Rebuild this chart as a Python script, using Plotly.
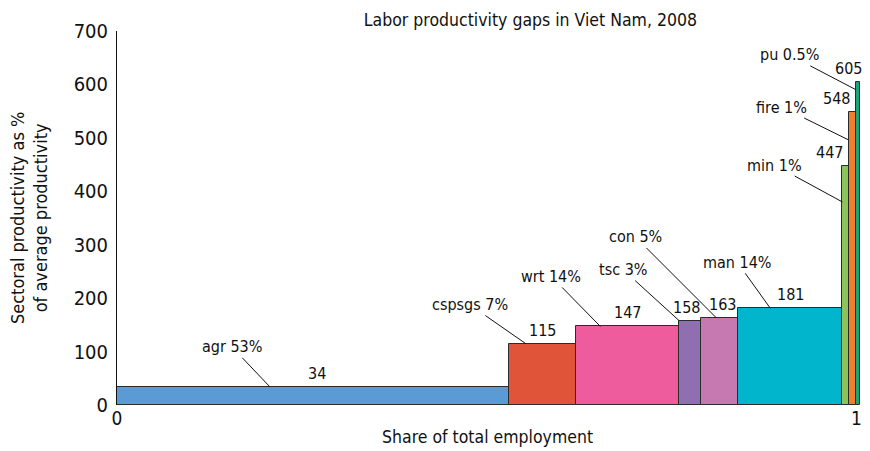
import numpy as np
import plotly.graph_objects as go

# ---- data ----
sectors = ["agr", "cspsgs", "wrt", "tsc", "con", "man", "min", "fire", "pu"]
share_labels = ["53%", "7%", "14%", "3%", "5%", "14%", "1%", "1%", "0.5%"]
employment_share = [0.53, 0.09, 0.14, 0.03, 0.05, 0.14, 0.0095, 0.01, 0.0055]
productivity = [34, 115, 147, 158, 163, 181, 447, 548, 605]
x_tick_vals = [0, 1]
y_tick_vals = [0, 100, 200, 300, 400, 500, 600, 700]

# ---- style ----
colors = ["#5B9BD5", "#E0553A", "#EE5C9E", "#8F6FAF", "#C678B1",
          "#00B5CC", "#8DC45A", "#F07F2D", "#17A77A"]
# leader-line tip position within each bar (fraction of width, fraction of height)
tip_fx = [0.39, 0.25, 0.24, 0.0, 0.41, 0.31, 0.1, 0.0, 0.0]
tip_fy = [1.0, 1.0, 1.0, 1.0, 1.0, 1.0, 0.85, 0.905, 0.975]
# text offsets (pixels) from tip
lab_ax = [-38, -56, -49, -56, -81, -33, -68, -67, -67]
lab_ay = [-40, -39, -50, -51, -81, -46, -37, -33, -35]
val_dx = [4, 0, 0, -4, 3, 0, -16, -16, -10]

FONT = "Liberation Sans Narrow, DejaVu Sans Condensed, Roboto, sans-serif"

w = np.array(employment_share)
starts = np.concatenate([[0], np.cumsum(w)[:-1]])
centers = starts + w / 2

# page has an 8px body margin, so the figure is drawn 8px smaller and offset
FIG_W, FIG_H = 862, 443
L, T = 109, 23
XMAX = 1.006
PLOT_W = 740 * XMAX
PLOT_H = 374
R = FIG_W - L - PLOT_W
B = FIG_H - T - PLOT_H

fig = go.Figure()
fig.add_trace(go.Bar(
    x=centers, y=productivity, width=w,
    marker=dict(color=colors, line=dict(color="#2b2b2b", width=1)),
    cliponaxis=False, hoverinfo="skip", showlegend=False,
))

ann = []
for i, s in enumerate(sectors):
    tx = starts[i] + tip_fx[i] * w[i]
    ty = productivity[i] * tip_fy[i]
    ann.append(dict(
        x=tx, y=ty, xref="x", yref="y",
        text=f"{s} {share_labels[i]}", showarrow=True, arrowhead=0,
        arrowwidth=1, arrowcolor="#111", ax=lab_ax[i], ay=lab_ay[i],
        standoff=0, font=dict(family=FONT, size=16, color="#111"),
    ))
    ann.append(dict(
        x=centers[i], y=productivity[i], xref="x", yref="y",
        text=str(productivity[i]), showarrow=False, yanchor="bottom",
        xshift=val_dx[i], yshift=2,
        font=dict(family=FONT, size=16, color="#111"),
    ))

# axis titles
ann.append(dict(
    text="Share of total employment", xref="paper", yref="paper",
    x=(480 - L) / PLOT_W, y=-(429 - (T + PLOT_H)) / PLOT_H,
    xanchor="center", yanchor="middle", showarrow=False,
    font=dict(family=FONT, size=17.5, color="#111"),
))
ann.append(dict(
    text="Sectoral productivity as %<br>of average productivity",
    xref="paper", yref="paper",
    x=(21 - L) / PLOT_W, y=0.5, textangle=-90,
    xanchor="center", yanchor="middle", showarrow=False,
    font=dict(family=FONT, size=18, color="#111"),
))

fig.update_layout(
    width=FIG_W, height=FIG_H,
    margin=dict(l=L, r=R, t=T, b=B, autoexpand=False),
    paper_bgcolor="white", plot_bgcolor="white",
    font=dict(family=FONT, color="#111"),
    title=dict(text="Labor productivity gaps in Viet Nam, 2008",
               x=479 / FIG_W, xanchor="center", xref="paper", y=1 - 11.5 / FIG_H,
               yanchor="middle",
               font=dict(family=FONT, size=17.5, color="#111")),
    annotations=ann,
    bargap=0,
)
fig.update_xaxes(range=[0, XMAX], tickvals=x_tick_vals,
                 ticktext=[str(v) for v in x_tick_vals],
                 showgrid=False, zeroline=False, showline=False, automargin=False,
                 ticks="", tickfont=dict(family=FONT, size=19))
fig.update_yaxes(range=[0, 700], tickvals=y_tick_vals,
                 showgrid=False, zeroline=False, showline=True, automargin=False,
                 linecolor="#111", linewidth=1,
                 ticks="outside", ticklen=4, tickcolor="rgba(0,0,0,0)",
                 tickfont=dict(family=FONT, size=20))

fig.write_html("out.html")
